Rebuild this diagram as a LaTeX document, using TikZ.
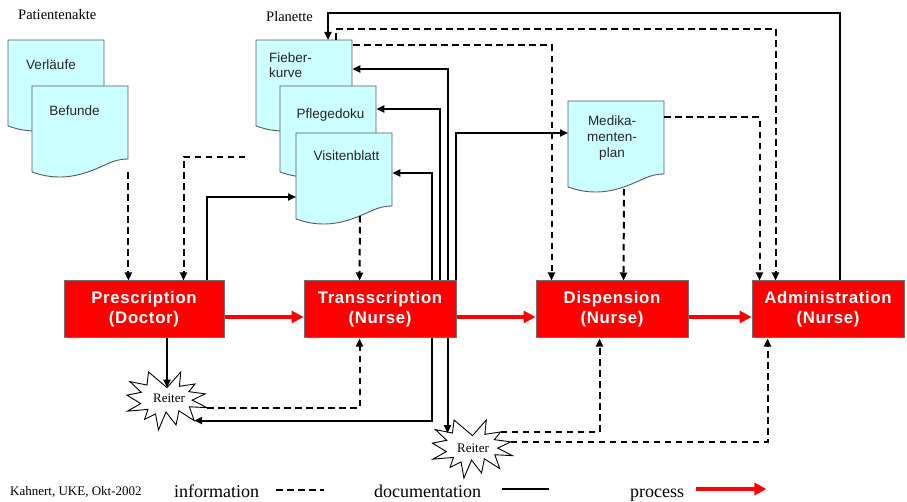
\documentclass[tikz,border=0pt]{standalone}
\usepackage{fontspec}
\setmainfont{Liberation Serif}
\setsansfont{Liberation Sans}
\newfontfamily\boxfont{Liberation Sans}[LetterSpace=4]
\usetikzlibrary{arrows.meta,calc}

\definecolor{sheetcyan}{HTML}{CCFFFF}
\definecolor{sheetgray}{HTML}{5A5A5A}
\definecolor{boxgray}{HTML}{6E6E6E}

\tikzset{
  sheet/.style={fill=sheetcyan, draw=sheetgray, line width=0.9pt},
  docframe/.style={rectangle, inner sep=0pt, minimum width=96pt, minimum height=86pt, anchor=north west},
  doctext/.style={inner sep=0pt, font=\sffamily\fontsize{13.5}{15.5}\selectfont, text=black!85},
  stepbox/.style={rectangle, fill=red, draw=boxgray, line width=1pt, minimum height=57pt,
    text=white, align=center, inner sep=0pt, font=\boxfont\bfseries\fontsize{16.8}{20}\selectfont},
  info/.style={line width=2pt, dash pattern=on 6.5pt off 4.5pt},
  doc/.style={line width=2pt},
  tip/.style={-{Triangle[length=8pt,width=7pt]}},
  proc/.style={line width=4pt, red, -{Triangle[length=12pt,width=12pt]}},
  burstline/.style={draw=black, fill=white, line width=0.9pt},
  caption/.style={inner sep=0pt, font=\fontsize{14.5}{17}\selectfont},
  legend/.style={inner sep=0pt, font=\fontsize{18}{20}\selectfont},
  burstlabel/.style={inner sep=0pt, font=\fontsize{13}{15}\selectfont},
}

% paper sheet with a wavy lower edge, drawn inside a frame node
\newcommand\docsheet[1]{%
  \begin{scope}[shift={(#1.north west)}]
    \filldraw[sheet] (0,0) -- (96,0) -- (96,73)
      .. controls (90,73) and (84,74) .. (75,78)
      .. controls (60,85) and (45,91) .. (28,91)
      .. controls (18,91) and (10,89.5) .. (0,86) -- cycle;
  \end{scope}}

% explosion outline with named corner points #1-1 ... #1-24
\newcommand\reitershape[2]{%
  \begin{scope}[shift={(#2)}, xscale=80, yscale=58]
    \filldraw[burstline]
      (0.000,-0.231) coordinate (#1-1) -- (0.172,-0.500) coordinate (#1-2) --
      (0.155,-0.253) coordinate (#1-3) -- (0.351,-0.294) coordinate (#1-4) --
      (0.273,-0.161) coordinate (#1-5) -- (0.477,-0.123) coordinate (#1-6) --
      (0.315,-0.015) coordinate (#1-7) -- (0.500,0.115) coordinate (#1-8) --
      (0.279,0.099) coordinate (#1-9) -- (0.340,0.338) coordinate (#1-10) --
      (0.149,0.169) coordinate (#1-11) -- (0.113,0.414) coordinate (#1-12) --
      (-0.012,0.191) coordinate (#1-13) -- (-0.107,0.500) coordinate (#1-14) --
      (-0.143,0.223) coordinate (#1-15) -- (-0.280,0.316) coordinate (#1-16) --
      (-0.238,0.145) coordinate (#1-17) -- (-0.494,0.175) coordinate (#1-18) --
      (-0.328,0.045) coordinate (#1-19) -- (-0.500,-0.101) coordinate (#1-20) --
      (-0.322,-0.150) coordinate (#1-21) -- (-0.464,-0.335) coordinate (#1-22) --
      (-0.250,-0.275) coordinate (#1-23) -- (-0.231,-0.500) coordinate (#1-24) -- cycle;
  \end{scope}}

\begin{document}
\begin{tikzpicture}[x=1pt,y=-1pt]
\useasboundingbox (0,0) rectangle (907,502);

% group captions
\node[caption, anchor=base west] (akte) at (18,20) {Patientenakte};
\node[caption, anchor=base west] (planette) at (266,22) {Planette};

% Patientenakte sheets
\node[docframe] (va) at (8,40) {};
\docsheet{va}
\node[doctext, anchor=base] (va-t) at (51,69.5) {Verläufe};
\node[docframe] (bf) at (32,86) {};
\docsheet{bf}
\node[doctext, anchor=base] (bf-t) at (74.5,116) {Befunde};

% Planette sheets
\node[docframe] (fk) at (256,40) {};
\docsheet{fk}
\node[doctext, anchor=west, align=left] (fk-t) at (269,65.3) {Fieber-\\kurve};
\node[docframe] (pd) at (280,86) {};
\docsheet{pd}
\node[doctext, anchor=base] (pd-t) at (330.5,119) {Pflegedoku};
\node[docframe] (vb) at (296,133) {};
\docsheet{vb}
\node[doctext, anchor=base] (vb-t) at (346.5,161) {Visitenblatt};

% Medikamentenplan
\node[docframe] (mp) at (568,101) {};
\docsheet{mp}
\node[doctext, align=center, font=\sffamily\fontsize{13.5}{16}\selectfont] (mp-t) at (612,138.5) {Medika-\\menten-\\plan};

% process steps
\node[stepbox, minimum width=160pt] (presc) at (144,309.5) {Prescription\\(Doctor)};
\node[stepbox, minimum width=152pt] (trans) at (380,309.5) {Transscription\\(Nurse)};
\node[stepbox, minimum width=152pt] (disp) at (612,309.5) {Dispension\\(Nurse)};
\node[stepbox, minimum width=152pt] (admin) at (828,309.5) {Administration\\(Nurse)};

% Reiter markers
\reitershape{r1}{167,401}
\node[burstlabel] (r1) at (169,398) {Reiter};
\reitershape{r2}{472.5,449}
\node[burstlabel] (r2) at (473,448) {Reiter};

% process flow
\draw[proc] ($(presc.east)+(0,7.5)$) -- ($(trans.west)+(0,7.5)$);
\draw[proc] ($(trans.east)+(0,7.5)$) -- ($(disp.west)+(0,7.5)$);
\draw[proc] ($(disp.east)+(0,7.5)$) -- ($(admin.west)+(0,7.5)$);

% prescription inputs and outputs
\coordinate (note) at (245,157);
\draw[info,tip] (bf.south east) -- (bf.south east |- presc.north);
\draw[info,tip] (note) -| ($(presc.north west)+(120,0)$);
\draw[doc,tip] ($(presc.north west)+(143,0)$) |- ($(vb.north west)+(0,64)$);
\draw[doc,tip] (presc.south -| r1-1) -- (r1-1);

% transcription exits
\coordinate (tt1) at ($(trans.north west)+(128,0)$);
\coordinate (tt2) at ($(trans.north west)+(136,0)$);
\coordinate (tt3) at ($(trans.north west)+(144,0)$);
\coordinate (tt4) at ($(trans.north west)+(152,0)$);
\coordinate (tb1) at ($(trans.south west)+(128,0)$);
\coordinate (tb3) at ($(trans.south west)+(144,0)$);
\draw[info,tip] ($(vb.north west)+(64,83)$) -- ($(trans.north west)+(56,0)$);
\draw[doc,tip] (tt1) |- ($(vb.north east)+(0,40)$);
\draw[doc,tip] (tt2) |- ($(pd.north east)+(0,23)$);
\draw[doc,tip] (tt3) |- ($(fk.north east)+(0,29)$);
\draw[doc,tip] (tt4) |- ($(mp.north west)+(0,32)$);
\draw[doc,tip] (tb1) |- (r1-10);
\draw[doc,tip] (tb3) -- (tb3 |- r2-23);
\draw[info,tip] (r1-8) -| ($(trans.south west)+(56,0)$);

% Planette feedback
\draw[doc,tip] ($(admin.north west)+(88,0)$) |- ($(fk.north west)+(72,-27)$) -- ($(fk.north west)+(72,0)$);
\draw[info,tip] ($(fk.north west)+(80,0)$) -- ++(0,-11) -| ($(admin.north west)+(24,0)$);
\draw[info,tip] ($(fk.north east)+(1,4.7)$) -| ($(disp.north west)+(16,0)$);

% Medikamentenplan usage
\draw[info,tip] ($(mp.north west)+(56,88)$) -- ($(disp.north west)+(88,0)$);
\draw[info,tip] ($(mp.north east)+(0,16)$) -| ($(admin.north west)+(8,0)$);

% second Reiter
\draw[info,tip] (r2-4) -| ($(disp.south west)+(64,0)$);
\draw[info,tip] (r2-6) -| ($(admin.south west)+(16,0)$);

% legend
\node[inner sep=0pt, anchor=base west, font=\fontsize{13}{15}\selectfont] (lg-author) at (10,495) {Kahnert, UKE, Okt-2002};
\node[legend, anchor=base west] (lg-info) at (174,497) {information};
\draw[info] ($(lg-info.base east)+(17,-7)$) -- ++(48,0);
\node[legend, anchor=base west] (lg-doc) at (374,497) {documentation};
\draw[doc] ($(lg-doc.base east)+(21,-8)$) -- ++(47,0);
\node[legend, anchor=base west] (lg-proc) at (630,497) {process};
\draw[proc] ($(lg-proc.base east)+(12,-8)$) -- ++(70,0);
\end{tikzpicture}
\end{document}
